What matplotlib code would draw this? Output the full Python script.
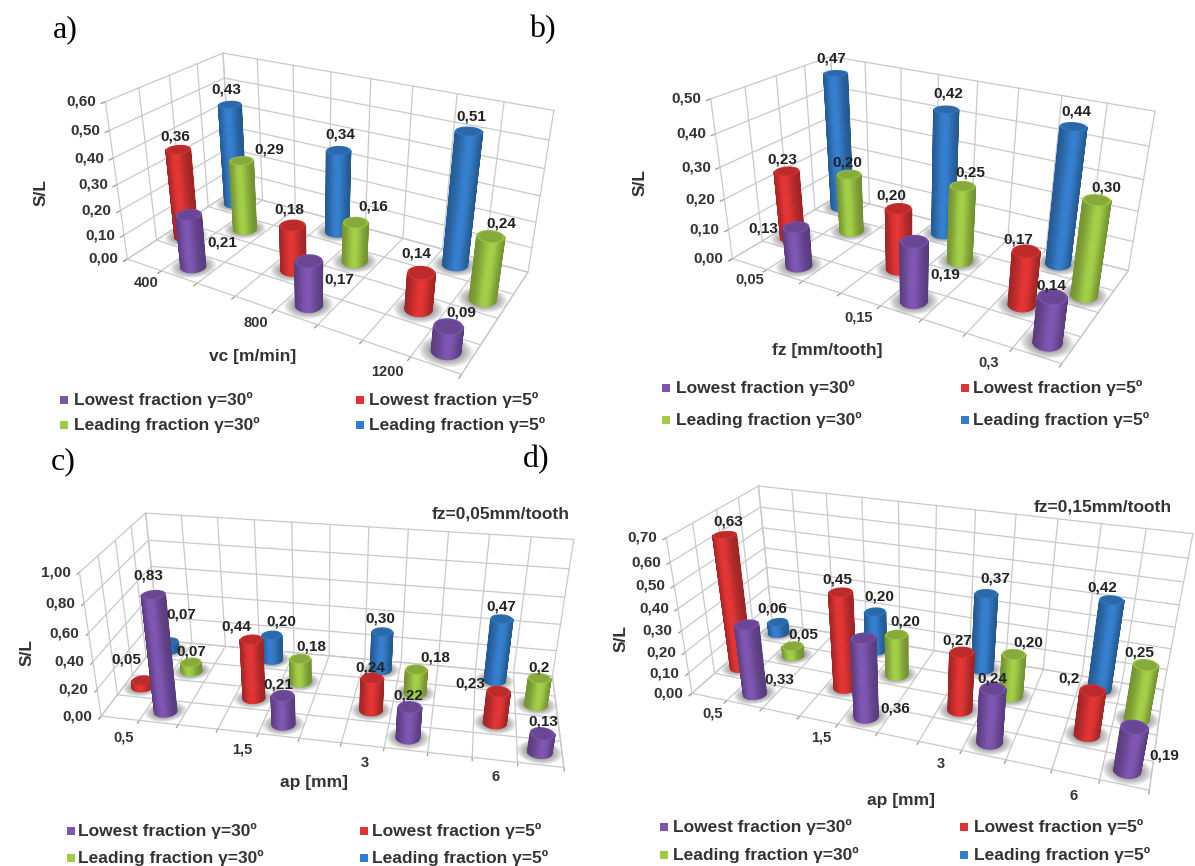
import numpy as np
import matplotlib
matplotlib.use('Agg')
import matplotlib.pyplot as plt
from matplotlib.patches import Rectangle
from mpl_toolkits.mplot3d.art3d import Poly3DCollection

plt.rcParams['font.family'] = ['Liberation Sans', 'DejaVu Sans']

# valeurs : ordre purple, red, green, blue
series_names = ['Lowest fraction γ=30º', 'Lowest fraction γ=5º', 'Leading fraction γ=30º', 'Leading fraction γ=5º']
colors = [(0.49, 0.33, 0.69), (0.88, 0.20, 0.20), (0.63, 0.80, 0.27), (0.20, 0.49, 0.80)]

cats_a = ['400', '800', '1200']
purple_a = [0.21, 0.17, 0.09]
red_a = [0.36, 0.18, 0.14]
green_a = [0.29, 0.16, 0.24]
blue_a = [0.43, 0.34, 0.51]
labels_a = [['0,21', '0,17', '0,09'], ['0,36', '0,18', '0,14'], ['0,29', '0,16', '0,24'], ['0,43', '0,34', '0,51']]
zticks_a = [0.0, 0.1, 0.2, 0.3, 0.4, 0.5, 0.6]

cats_b = ['0,05', '0,15', '0,3']
purple_b = [0.13, 0.19, 0.14]
red_b = [0.23, 0.20, 0.17]
green_b = [0.20, 0.25, 0.30]
blue_b = [0.47, 0.42, 0.44]
labels_b = [['0,13', '0,19', '0,14'], ['0,23', '0,20', '0,17'], ['0,20', '0,25', '0,30'], ['0,47', '0,42', '0,44']]
zticks_b = [0.0, 0.1, 0.2, 0.3, 0.4, 0.5]

cats_c = ['0,5', '1,5', '3', '6']
purple_c = [0.83, 0.21, 0.22, 0.13]
red_c = [0.05, 0.44, 0.24, 0.23]
green_c = [0.07, 0.18, 0.18, 0.20]
blue_c = [0.07, 0.20, 0.30, 0.47]
labels_c = [['0,83', '0,21', '0,22', '0,13'], ['0,05', '0,44', '0,24', '0,23'],
            ['0,07', '0,18', '0,18', '0,2'], ['0,07', '0,20', '0,30', '0,47']]
zticks_c = [0.0, 0.2, 0.4, 0.6, 0.8, 1.0]

cats_d = ['0,5', '1,5', '3', '6']
purple_d = [0.33, 0.36, 0.24, 0.19]
red_d = [0.63, 0.45, 0.27, 0.20]
green_d = [0.05, 0.20, 0.20, 0.25]
blue_d = [0.06, 0.20, 0.37, 0.42]
labels_d = [['0,33', '0,36', '0,24', '0,19'], ['0,63', '0,45', '0,27', '0,2'],
            ['0,05', '0,20', '0,20', '0,25'], ['0,06', '0,20', '0,37', '0,42']]
zticks_d = [0.0, 0.1, 0.2, 0.3, 0.4, 0.5, 0.6, 0.7]

W, H = 1195, 866

# placement : coins de la boite en pixels image, (x, y, z) normalises
corner_keys = [(0, 0, 0), (0, 0, 1), (0, 1, 1), (1, 1, 1), (1, 0, 0), (1, 1, 0), (0, 1, 0)]
panels = [
    dict(vals=[purple_a, red_a, green_a, blue_a], cats=cats_a, labels=labels_a, zticks=zticks_a,
         corners=[(128, 255), (105, 103), (224, 50), (553, 113), (461, 378), (529, 267), (230, 197)],
         rad=(12.5, 6.5),
         off=[[(34, 28), (31, 18), (13, -14)], [(-3, -13), (-3, -16), (-5, -19)],
              [(28, -11), (18, -16), (11, -13)], [(-4, -15), (2, -16), (2, -15)]],
         cat_xy=[(146, 283), (256, 323), (387, 372)], xlabel=('vc [m/min]', 253, 357), sl=(41, 193),
         letter=('a)', 65, 30), leg_x=(64, 74, 360, 369), leg_y=(400, 425)),
    dict(vals=[purple_b, red_b, green_b, blue_b], cats=cats_b, labels=labels_b, zticks=zticks_b,
         corners=[(732, 249), (710, 104), (833, 49), (1153, 115), (1063, 370), (1129, 262), (837, 207)],
         rad=(12.5, 6.5),
         off=[[(-33, 1), (31, 33), (-1, -11)], [(-4, -12), (-7, -13), (-8, -12)],
              [(-2, -12), (8, -14), (10, -13)], [(-4, -15), (2, -16), (3, -15)]],
         cat_xy=[(750, 279), (859, 318), (989, 363)], xlabel=('fz [mm/tooth]', 827, 351), sl=(640, 183),
         letter=('b)', 542, 30), leg_x=(666, 676, 965, 973), leg_y=(388, 420)),
    dict(vals=[purple_c, red_c, green_c, blue_c], cats=cats_c, labels=labels_c, zticks=zticks_c,
         corners=[(105, 716), (75, 573), (150, 513), (573, 539), (564, 767), (553, 677), (155, 640)],
         rad=(11, 5.5),
         off=[[(-5, -19), (-4, -11), (-1, -12), (1, -12)], [(-16, -21), (-15, -13), (-2, -11), (-28, -8)],
              [(0, -11), (11, -12), (19, -12), (0, -11)], [(13, -27), (10, -14), (-2, -13), (-1, -12)]],
         cat_xy=[(124, 737), (242, 749), (365, 763), (496, 777)], xlabel=('ap [mm]', 314, 782), sl=(27, 653),
         letter=('c)', 63, 462), leg_x=(71, 78, 364, 372), leg_y=(831, 858),
         note=('fz=0,05mm/tooth', 501, 514)),
    dict(vals=[purple_d, red_d, green_d, blue_d], cats=cats_d, labels=labels_d, zticks=zticks_d,
         corners=[(695, 690), (664, 537), (761, 484), (1192, 537), (1148, 795), (1165, 683), (769, 628)],
         rad=(11.5, 6),
         off=[[(32, 55), (32, 70), (0, -10), (30, 28)], [(3, -13), (-3, -13), (-5, -12), (-23, -12)],
              [(11, -12), (9, -13), (14, -12), (-6, -12)], [(-6, -14), (4, -15), (9, -15), (-9, -13)]],
         cat_xy=[(713, 714), (821, 738), (941, 764), (1074, 796)], xlabel=('ap [mm]', 901, 800), sl=(621, 639),
         letter=('d)', 536, 460), leg_x=(664, 673, 964, 974), leg_y=(827, 855),
         note=('fz=0,15mm/tooth', 1103, 507)),
]

fig = plt.figure(figsize=(W / 100, H / 100), dpi=100)


def fig_text(px, py, s, **kw):
    return fig.text(px / W, 1 - py / H, s, **kw)


def fit_camera(points3d, points2d):
    # resolution DLT de la camera 3x4
    rows = []
    for (x, y, z), (u, v) in zip(points3d, points2d):
        rows.append([x, y, z, 1, 0, 0, 0, 0, -u * x, -u * y, -u * z, -u])
        rows.append([0, 0, 0, 0, x, y, z, 1, -v * x, -v * y, -v * z, -v])
    _, _, vt = np.linalg.svd(np.array(rows, dtype=float))
    return vt[-1].reshape(3, 4)


def draw_panel(p):
    ax = fig.add_axes([0, 0, 1, 1], projection='3d', computed_zorder=False)
    ax.set_axis_off()
    ax.patch.set_facecolor('none')
    ax.apply_aspect()

    ncat = len(p['cats'])
    nx = 3 * ncat - 1
    ny = 4
    zmax = p['zticks'][-1]

    pts = np.array([(c[0] / 1000, (H - c[1]) / 1000) for c in p['corners']])
    cam = fit_camera(corner_keys, pts)
    cam = cam @ np.diag([1 / nx, 1 / ny, 1 / zmax, 1])
    if (cam @ np.array([nx / 2, ny / 2, 0, 1]))[2] < 0:
        cam = -cam
    to_data = ax.transData.inverted().get_matrix() @ np.diag([1000, 1000, 1])
    m2 = to_data @ cam
    # la profondeur doit rester negative sinon Line3D masque les points
    w_mean = (m2[2] @ np.array([nx / 2, ny / 2, zmax / 2, 1]))
    M = np.vstack([m2[0], m2[1], np.array([-1 / nx, 1 / ny, 0.01 / zmax, -3]) * w_mean, m2[2]])
    ax.get_proj = lambda: M

    def to_pixel(x, y, z):
        q = cam @ np.array([x, y, z, 1])
        return q[0] / q[2] * 1000, H - q[1] / q[2] * 1000

    # grille
    grid = dict(color='#c9c9c9', lw=0.9, clip_on=False, zorder=1)
    tick = dict(color='#9a9a9a', lw=0.9, clip_on=False, zorder=1)
    for z in p['zticks']:
        ax.plot([0, 0, nx], [0, ny, ny], [z, z, z], **grid)
        ax.plot([0, 0], [0, -0.12], [z, z], **tick)
    for i in range(nx + 1):
        ax.plot([i, i, i], [0, ny, ny], [0, 0, zmax], **grid)
        ax.plot([i, i], [0, -0.12], [0, 0], **tick)
    for j in range(ny + 1):
        ax.plot([0, nx], [j, j], [0, 0], **grid)
        ax.plot([0, 0], [j, j], [0, zmax], **grid)
    ax.plot([nx, nx], [0, ny], [0, 0], **grid)

    # vecteurs pixel par unite, pour avoir des ellipses horizontales a l'ecran
    p00 = np.array(to_pixel(0, 0, 0))
    ux = (np.array(to_pixel(nx, 0, 0)) - p00 + np.array(to_pixel(nx, ny, 0)) - np.array(to_pixel(0, ny, 0))) / (2 * nx)
    uy = (np.array(to_pixel(0, ny, 0)) - p00 + np.array(to_pixel(nx, ny, 0)) - np.array(to_pixel(nx, 0, 0))) / (2 * ny)
    J_inv = np.linalg.inv(np.array([[ux[0], uy[0]], [-ux[1], -uy[1]]]))
    rw, rh = p['rad']

    def ellipse(cx, cy, scale, t):
        dd = J_inv @ np.vstack([scale * rw * np.cos(t), scale * rh * np.sin(t)])
        return cx + dd[0], cy + dd[1]

    centres = []
    for s, row in enumerate(p['vals']):
        for g, v in enumerate(row):
            cell = 3 * g + (1 if s in (0, 2) else 0)
            centres.append((s, g, cell + 0.5, s + 0.5, v))

    # ombres au sol
    t_full = np.linspace(0, 2 * np.pi, 49)
    for s, g, cx, cy, v in centres:
        for scale in [1.8, 1.65, 1.5, 1.35, 1.2, 1.1]:
            ex, ey = ellipse(cx, cy, scale, t_full)
            poly = Poly3DCollection([list(zip(ex, ey, np.zeros_like(ex)))], facecolor=(0.25, 0.25, 0.25, 0.1),
                                    edgecolor='none', zorder=1.5)
            poly.set_clip_on(False)
            ax.add_collection3d(poly)

    # cylindres, du fond vers l'avant
    t_side = np.linspace(np.pi, 2 * np.pi, 25)
    order = sorted(centres, key=lambda c: (-c[3], c[2]))
    for k, (s, g, cx, cy, v) in enumerate(order):
        zo = 2 + k * 0.1
        base = np.array(colors[s])
        ex, ey = ellipse(cx, cy, 1.0, t_side)
        X = np.vstack([ex, ex])
        Y = np.vstack([ey, ey])
        Z = np.vstack([np.zeros_like(ex), np.full_like(ex, v)])
        mid = np.cos((t_side[:-1] + t_side[1:]) / 2)
        light = 0.70 + 0.32 * np.exp(-((mid + 0.05) / 0.6) ** 2)
        face = np.ones((2, len(ex), 4))
        for i, f in enumerate(np.append(light, light[-1])):
            face[:, i, :3] = np.clip(base * f, 0, 1)
        ax.plot_surface(X, Y, Z, facecolors=face, rstride=1, cstride=1, shade=False, linewidth=0.6,
                        clip_on=False, zorder=zo)
        for scale, tone in [(1.0, 0.95), (0.85, 0.84)]:
            ex, ey = ellipse(cx, cy, scale, t_full)
            cap = Poly3DCollection([list(zip(ex, ey, np.full_like(ex, v)))], facecolor=np.clip(base * tone, 0, 1),
                                   edgecolor='none', zorder=zo + 0.01)
            cap.set_clip_on(False)
            ax.add_collection3d(cap)

    # etiquettes
    for s, g, cx, cy, v in centres:
        px, py = to_pixel(cx, cy, v)
        dx, dy = p['off'][s][g]
        fig_text(px + dx, py + dy, p['labels'][s][g], fontsize=11, fontweight='bold', color='#222222',
                 ha='center', va='center', zorder=5)

    for z in p['zticks']:
        px, py = to_pixel(0, 0, z)
        fig_text(px - 9, py, ('%.2f' % z).replace('.', ','), fontsize=11, fontweight='bold', color='#333333',
                 ha='right', va='center')
    for name, (cx, cy) in zip(p['cats'], p['cat_xy']):
        fig_text(cx, cy, name, fontsize=10.5, fontweight='bold', color='#333333', ha='center', va='center')
    name, cx, cy = p['xlabel']
    fig_text(cx, cy, name, fontsize=12.5, fontweight='bold', color='#333333', ha='center', va='center')
    fig_text(p['sl'][0], p['sl'][1], 'S/L', fontsize=12.5, fontweight='bold', color='#333333',
             rotation=90, ha='center', va='center')
    if 'note' in p:
        name, cx, cy = p['note']
        fig_text(cx, cy, name, fontsize=12.5, fontweight='bold', color='#333333', ha='center', va='center')
    name, cx, cy = p['letter']
    fig_text(cx, cy, name, fontsize=23, family='Liberation Serif', color='black', ha='center', va='center')

    # legende
    m1, t1, m2x, t2 = p['leg_x']
    y1, y2 = p['leg_y']
    places = [(m1, t1, y1), (m2x, t2, y1), (m1, t1, y2), (m2x, t2, y2)]
    for name, col, (mx, tx, ty) in zip(series_names, colors, places):
        fig.add_artist(Rectangle(((mx - 4) / W, 1 - (ty + 4) / H), 8 / W, 8 / H, transform=fig.transFigure,
                                 facecolor=col, edgecolor='none'))
        fig_text(tx, ty, name, fontsize=12.5, fontweight='bold', color='#333333', ha='left', va='center')


for panel in panels:
    draw_panel(panel)

fig.savefig('out.png', dpi=100)
